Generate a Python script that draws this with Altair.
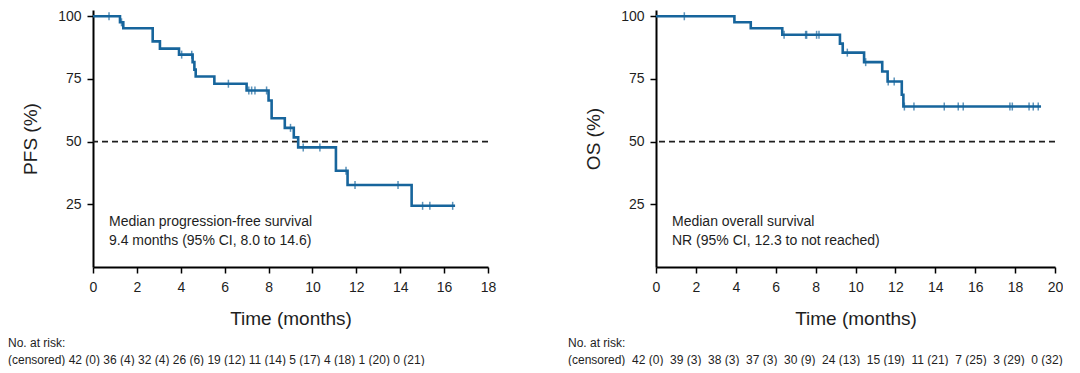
import altair as alt
import pandas as pd

FONT = "Liberation Sans"
BLUE = "#17659c"
INK = "#1e1e1e"

# ---- PFS (left panel) ----
pfs_times = [0, 1.23, 1.38, 2.72, 3.05, 3.92, 4.54, 4.62, 4.68, 5.53, 7.00, 8.00, 8.14,
             8.74, 9.15, 9.35, 11.07, 11.60, 14.52]
pfs_surv = [100, 97.6, 95.2, 90.0, 87.1, 84.7, 81.7, 78.7, 76.0, 73.1, 70.4, 66.4, 59.3,
            55.5, 51.7, 47.7, 38.4, 32.7, 24.4]
pfs_end = 16.5
pfs_censor = [0.73, 1.30, 4.04, 4.50, 6.17, 7.10, 7.23, 7.38, 7.91, 9.00, 9.58, 10.34,
              11.53, 11.94, 13.90, 15.02, 15.35, 16.39]
pfs_at_risk = ["42 (0)", "36 (4)", "32 (4)", "26 (6)", "19 (12)", "11 (14)", "5 (17)",
               "4 (18)", "1 (20)", "0 (21)"]
pfs_note = ["Median progression-free survival", "9.4 months (95% CI, 8.0 to 14.6)"]

# ---- OS (right panel) ----
os_times = [0, 3.93, 4.75, 6.33, 9.22, 9.36, 10.43, 11.34, 11.61, 12.32, 12.40]
os_surv = [100, 97.6, 95.2, 92.6, 89.1, 85.5, 81.7, 78.0, 74.0, 68.7, 64.0]
os_end = 19.3
os_censor = [1.42, 6.42, 7.50, 7.55, 8.05, 8.17, 9.59, 10.51, 11.64, 11.94, 12.45, 12.93,
             14.45, 15.15, 15.40, 17.74, 17.86, 18.70, 18.91, 19.16]
os_at_risk = ["42 (0)", "39 (3)", "38 (3)", "37 (3)", "30 (9)", "24 (13)", "15 (19)",
              "11 (21)", "7 (25)", "3 (29)", "0 (32)"]
os_note = ["Median overall survival", "NR (95% CI, 12.3 to not reached)"]

y_ticks = [25, 50, 75, 100]


def surv_at(times, surv, t):
    val = surv[0]
    for tt, ss in zip(times, surv):
        if tt <= t:
            val = ss
    return val


def panel(times, surv, end, censors, at_risk, note, xmax, width, ytitle, risk_x, gap):
    km = pd.DataFrame({"t": list(times) + [end], "s": list(surv) + [surv[-1]]})
    cens = pd.DataFrame({"t": censors, "s": [surv_at(times, surv, c) for c in censors]})
    xs = alt.Scale(domain=[0, xmax], nice=False)
    ys = alt.Scale(domain=[0, 102.5], nice=False)
    xaxis = alt.Axis(values=list(range(0, xmax + 1, 2)), title="Time (months)",
                     labelFlush=False, labelOverlap=False)
    yaxis = alt.Axis(values=y_ticks, title=ytitle, labelOverlap=False)

    rule = alt.Chart(pd.DataFrame({"y": [50]})).mark_rule(
        strokeDash=[6, 4], strokeWidth=1.7, color=INK).encode(
        y=alt.Y("y:Q", scale=ys, axis=yaxis))
    line = alt.Chart(km).mark_line(interpolate="step-after", color=BLUE, strokeWidth=2.6).encode(
        x=alt.X("t:Q", scale=xs, axis=xaxis), y=alt.Y("s:Q", scale=ys, axis=yaxis))
    ticks = alt.Chart(cens).mark_tick(orient="vertical", size=8, thickness=1.5, color=BLUE).encode(
        x=alt.X("t:Q", scale=xs, axis=xaxis), y=alt.Y("s:Q", scale=ys, axis=yaxis))
    note_txt = alt.Chart(pd.DataFrame({"text": ["\n".join(note)]})).mark_text(
        align="left", baseline="top", fontSize=14, lineHeight=19, font=FONT, color=INK,
        lineBreak="\n").encode(x=alt.value(16), y=alt.value(205), text="text:N")
    row = "(censored)" + gap + gap.join(at_risk)
    risk_txt = alt.Chart(pd.DataFrame({"text": ["No. at risk:\n" + row]})).mark_text(
        align="left", baseline="alphabetic", fontSize=12, lineHeight=16.5, font=FONT,
        color=INK, lineBreak="\n").encode(x=alt.value(risk_x), y=alt.value(337), text="text:N")
    return alt.layer(rule, line, ticks, note_txt, risk_txt).properties(width=width, height=257)


NB = "\u00a0"
left = panel(pfs_times, pfs_surv, pfs_end, pfs_censor, pfs_at_risk, pfs_note, 18, 395,
             "PFS (%)", -85, NB)
right = panel(os_times, os_surv, os_end, os_censor, os_at_risk, os_note, 20, 399,
              "OS (%)", -88, NB * 2)

chart = alt.hconcat(left, right, spacing=72).properties(
    padding={"left": 0, "top": 1, "right": 0, "bottom": 0}
).configure_view(stroke=None).configure_axis(
    grid=False, labelFont=FONT, labelFontSize=14, labelColor=INK, titleFont=FONT,
    titleFontSize=19, titleFontWeight="normal", titleColor=INK, domainColor="black",
    domainWidth=2, tickColor="black", tickWidth=1.5, tickSize=6
).configure_axisX(labelPadding=7, titlePadding=15).configure_axisY(
    labelPadding=6, titlePadding=17)

chart.save("out.html", embed_options={"renderer": "svg", "actions": False})
